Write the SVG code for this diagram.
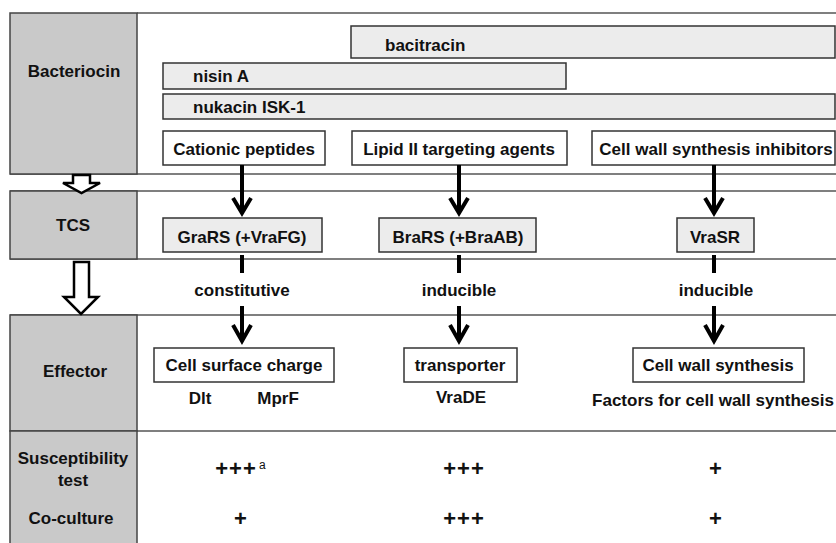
<svg xmlns="http://www.w3.org/2000/svg" width="836" height="543" viewBox="0 0 836 543">
<style>
text{font-family:"Liberation Sans",Arial,sans-serif;font-weight:bold;font-size:17px;fill:#111}
.c{text-anchor:middle}
.hdr{fill:#c9c9c9;stroke:#444;stroke-width:1.5}
.row{stroke:#555;stroke-width:1.5;fill:none}
.lbox{fill:#ececec;stroke:#333;stroke-width:1.5}
.wbox{fill:#fff;stroke:#333;stroke-width:1.5}
.shaft{stroke:#000;stroke-width:4;fill:none}
.head{stroke:#000;stroke-width:4;fill:none;stroke-linejoin:miter;stroke-linecap:butt}
.blk{fill:#fff;stroke:#000;stroke-width:2.5;stroke-linejoin:miter}
.pl{font-size:22px;letter-spacing:1px}
</style>
<rect width="836" height="543" fill="#fff"/>

<g id="grid">
  <line class="row" x1="137" y1="13" x2="836" y2="13"/>
  <line class="row" x1="10" y1="174" x2="836" y2="174"/>
  <line class="row" x1="10" y1="191" x2="836" y2="191"/>
  <line class="row" x1="10" y1="259" x2="836" y2="259"/>
  <line class="row" x1="10" y1="315" x2="836" y2="315"/>
  <line class="row" x1="10" y1="431" x2="836" y2="431"/>
</g>

<g id="hdr-bacteriocin"><rect class="hdr" x="10" y="13" width="127" height="161"/><text class="c" x="74" y="77">Bacteriocin</text></g>
<g id="hdr-tcs"><rect class="hdr" x="10" y="191" width="127" height="68"/><text class="c" x="73" y="231">TCS</text></g>
<g id="hdr-effector"><rect class="hdr" x="10" y="315" width="127" height="116"/><text class="c" x="75" y="377">Effector</text></g>
<g id="hdr-test"><rect class="hdr" x="10" y="431" width="127" height="115"/>
  <text class="c" x="73" y="464">Susceptibility</text><text class="c" x="73" y="486">test</text>
  <text class="c" x="71" y="524">Co-culture</text></g>

<g id="bacitracin"><rect class="lbox" x="351" y="26" width="484" height="32"/><text x="385" y="51">bacitracin</text></g>
<g id="nisinA"><rect class="lbox" x="163" y="63" width="403" height="26"/><text x="193" y="82">nisin A</text></g>
<g id="nukacin"><rect class="lbox" x="163" y="94" width="672" height="25"/><text x="193" y="113">nukacin ISK-1</text></g>

<g id="cationic"><rect class="wbox" x="163" y="131" width="162" height="34"/><text class="c" x="244" y="155">Cationic peptides</text></g>
<g id="lipid"><rect class="wbox" x="352" y="131" width="215" height="34"/><text class="c" x="459" y="155">Lipid II targeting agents</text></g>
<g id="cwsi"><rect class="wbox" x="592" y="131" width="243" height="34"/><text class="c" x="716" y="155">Cell wall synthesis inhibitors</text></g>

<g id="grars"><rect class="lbox" x="163" y="218" width="159" height="34"/><text class="c" x="242" y="243">GraRS (+VraFG)</text></g>
<g id="brars"><rect class="lbox" x="379" y="218" width="157" height="34"/><text class="c" x="458" y="243">BraRS (+BraAB)</text></g>
<g id="vrasr"><rect class="lbox" x="677" y="218" width="77" height="34"/><text class="c" x="715" y="243">VraSR</text></g>

<g id="csc"><rect class="wbox" x="154" y="348" width="180" height="34"/><text class="c" x="244" y="371">Cell surface charge</text>
  <text class="c" x="200" y="404">Dlt</text><text class="c" x="278" y="404">MprF</text></g>
<g id="transporter"><rect class="wbox" x="404" y="348" width="113" height="34"/><text class="c" x="460" y="371">transporter</text>
  <text class="c" x="461" y="403">VraDE</text></g>
<g id="cws"><rect class="wbox" x="633" y="348" width="171" height="34"/><text class="c" x="718" y="371">Cell wall synthesis</text>
  <text class="c" x="713" y="406">Factors for cell wall synthesis</text></g>

<g id="labels">
  <text class="c" x="242" y="296">constitutive</text>
  <text class="c" x="459" y="296">inducible</text>
  <text class="c" x="716" y="296">inducible</text>
</g>

<g id="results">
  <text class="c pl" x="236" y="476">+++</text><text x="259" y="469" style="font-size:12px;font-weight:normal">a</text>
  <text class="c pl" x="464" y="476">+++</text>
  <text class="c pl" x="716" y="476">+</text>
  <text class="c pl" x="241" y="526">+</text>
  <text class="c pl" x="464" y="526">+++</text>
  <text class="c pl" x="716" y="526">+</text>
</g>

<g id="connectors">
  <line class="shaft" x1="242" y1="165" x2="242" y2="213"/>
  <polyline class="head" points="233,198 242,213 251,198"/>
  <line class="shaft" x1="459" y1="165" x2="459" y2="213"/>
  <polyline class="head" points="450,198 459,213 468,198"/>
  <line class="shaft" x1="714" y1="165" x2="714" y2="213"/>
  <polyline class="head" points="705,198 714,213 723,198"/>

  <line class="shaft" x1="242" y1="255" x2="242" y2="273"/>
  <line class="shaft" x1="459" y1="255" x2="459" y2="273"/>
  <line class="shaft" x1="714" y1="255" x2="714" y2="273"/>

  <line class="shaft" x1="242" y1="306" x2="242" y2="341"/>
  <polyline class="head" points="233,325 242,341 251,325"/>
  <line class="shaft" x1="459" y1="306" x2="459" y2="341"/>
  <polyline class="head" points="450,325 459,341 468,325"/>
  <line class="shaft" x1="714" y1="306" x2="714" y2="341"/>
  <polyline class="head" points="705,325 714,341 723,325"/>

  <polygon class="blk" points="73,175 90,175 90,183 100,183 81.5,193 63,183 73,183"/>
  <polygon class="blk" points="74,262 89,262 89,297 98,297 81,314 64,297 74,297"/>
</g>
</svg>
